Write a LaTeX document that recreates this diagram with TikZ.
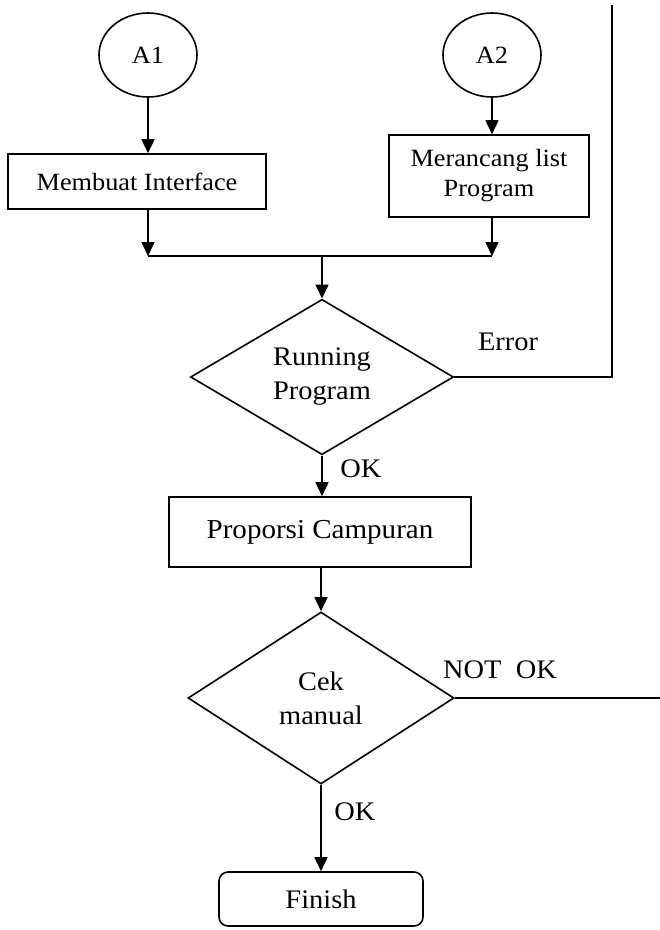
\documentclass[tikz,border=0pt]{standalone}
\usepackage{fontspec}
\setmainfont{Liberation Serif}[FakeStretch=1.06]
\usetikzlibrary{shapes.geometric,arrows.meta}

\begin{document}
\begin{tikzpicture}[x=1pt,y=-1pt,
  line/.style={line width=1.6pt},
  arr/.style={line, -{Triangle[length=14pt,width=13pt]}},
  proc/.style={draw, line width=1.6pt, rectangle, inner sep=0pt, align=center},
  conn/.style={draw, line width=1.6pt, ellipse, minimum width=98pt, minimum height=84pt, inner sep=0pt},
  decide/.style={draw, line width=1.6pt, diamond, inner sep=0pt, align=center},
  big/.style={font=\fontsize{26.8}{34}\selectfont},
  small/.style={font=\fontsize{24.8}{30}\selectfont},
]
\useasboundingbox (0,0) rectangle (660,930);

% connectors and steps
\node[conn, small] (a1) at (148,55) {A1};
\node[conn, small] (a2) at (492,55) {A2};
\node[proc, small, minimum width=258pt, minimum height=55pt] (mi) at (137,181.5) {Membuat Interface};
\node[proc, small, minimum width=200pt, minimum height=82pt] (ml) at (489,176) {Merancang list\\Program};

\coordinate (jl) at (148,256);
\coordinate (jr) at (492,256);
\coordinate (jm) at (322,256);

\node[decide, big, minimum width=263pt, minimum height=151pt] (run) at (322,377) {Running\\Program};
\coordinate (ret) at (612,377);
\coordinate (top) at (612,5);

\node[proc, font=\fontsize{27.4}{34}\selectfont, minimum width=302pt, minimum height=70pt] (pc) at (320,532) {Proporsi Campuran};
\node[decide, big, minimum width=266pt, minimum height=172pt] (cek) at (321,698) {Cek\\manual};
\coordinate (out) at (660,698);
\node[proc, big, rounded corners=9pt, minimum width=204pt, minimum height=54pt] (fin) at (321,899) {Finish};

% flow
\draw[arr] (a1.south) -- (a1.south |- mi.north);
\draw[arr] (a2.south) -- (a2.south |- ml.north);
\draw[arr] (mi.south -| jl) -- (jl);
\draw[arr] (ml.south -| jr) -- (jr);
\draw[line] (jl) -- (jr);
\draw[arr] (jm) -- (run.north);
\draw[line] (run.east) -- (ret) -- (top);
\draw[arr] (run.south) -- (run.south |- pc.north);
\draw[arr] (pc.south -| cek.north) -- (cek.north);
\draw[line] (cek.east) -- (out);
\draw[arr] (cek.south) -- (fin.north);

% branch labels
\node[big, anchor=base] (err) at (508,350) {Error};
\node[big, anchor=base] (ok1) at (361,477) {OK};
\node[big, anchor=base] (nok) at (500,678) {NOT\ \ OK};
\node[big, anchor=base] (ok2) at (355,820) {OK};
\end{tikzpicture}
\end{document}
